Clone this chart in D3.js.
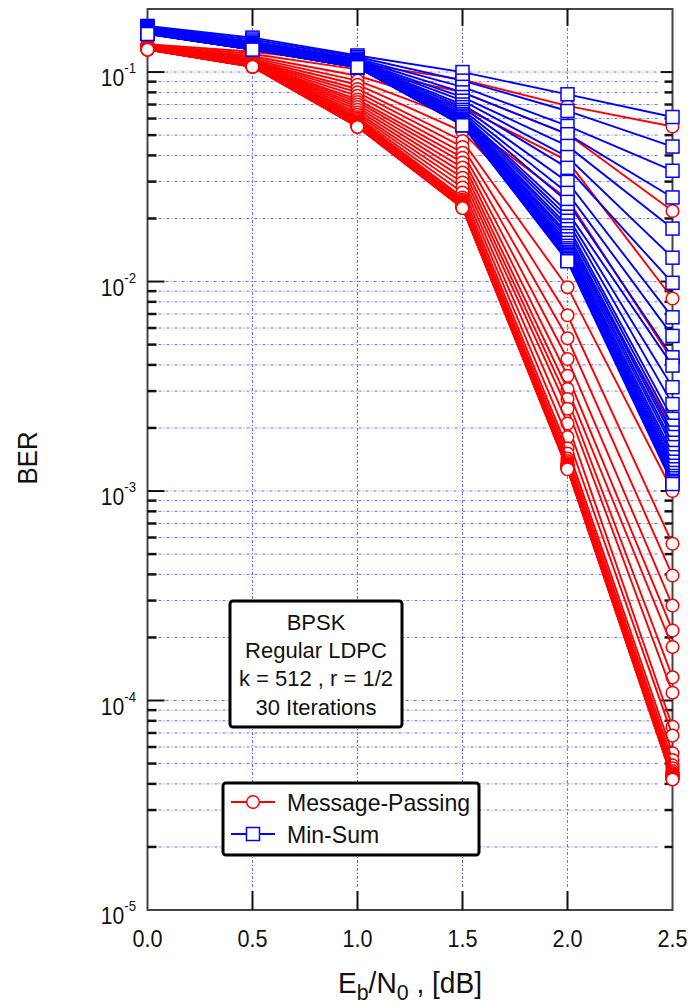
<!DOCTYPE html>
<html>
<head>
<meta charset="utf-8">
<script src="https://cdn.jsdelivr.net/npm/d3@7"></script>
<style>
  body { margin: 0; background: #fff; }
  svg { display: block; }
  text { font-family: "Liberation Sans", Arial, sans-serif; fill: #111; }
</style>
</head>
<body>
<svg id="chart" width="692" height="1005"></svg>
<script>
// Eb/N0 sample points (dB)
const ebn0 = [0.0, 0.5, 1.0, 1.5, 2.0, 2.5];
const xTickValues = [0.0, 0.5, 1.0, 1.5, 2.0, 2.5];
const yDecadeExponents = [-5, -4, -3, -2, -1];

// BER per decoding iteration (rows: iteration 1..30, columns: ebn0)
const berMessagePassing = [
  [0.136, 0.125, 0.110, 0.092, 0.069, 0.055],
  [0.135, 0.122, 0.103, 0.080, 0.0506, 0.0217],
  [0.134, 0.119, 0.096, 0.068, 0.0377, 0.0083],
  [0.133, 0.117, 0.091, 0.059, 0.0248, 0.0042],
  [0.1325, 0.115, 0.087, 0.052, 0.0155, 0.0020],
  [0.132, 0.1135, 0.083, 0.0469, 0.0094, 0.0010],
  [0.1317, 0.1125, 0.080, 0.0439, 0.0069, 5.6e-4],
  [0.1314, 0.1115, 0.077, 0.0412, 0.00536, 3.95e-4],
  [0.1311, 0.1105, 0.074, 0.0390, 0.00427, 2.84e-4],
  [0.1308, 0.1098, 0.072, 0.0370, 0.00355, 2.16e-4],
  [0.1305, 0.1092, 0.070, 0.0350, 0.00307, 1.80e-4],
  [0.1302, 0.1087, 0.068, 0.0331, 0.00275, 1.29e-4],
  [0.1300, 0.1083, 0.066, 0.0313, 0.00247, 1.09e-4],
  [0.1298, 0.1080, 0.064, 0.0297, 0.00210, 7.5e-5],
  [0.1296, 0.1077, 0.0625, 0.0281, 0.00181, 6.8e-5],
  [0.1294, 0.1075, 0.061, 0.0266, 0.00160, 5.6e-5],
  [0.1292, 0.1073, 0.060, 0.0252, 0.00151, 5.2e-5],
  [0.1290, 0.1071, 0.059, 0.0246, 0.00143, 4.9e-5],
  [0.1289, 0.1070, 0.058, 0.0242, 0.00139, 4.75e-5],
  [0.1288, 0.1068, 0.0575, 0.0238, 0.00136, 4.6e-5],
  [0.1287, 0.1067, 0.057, 0.0235, 0.00134, 4.5e-5],
  [0.1286, 0.1066, 0.0565, 0.0233, 0.00133, 4.45e-5],
  [0.1285, 0.1065, 0.056, 0.0231, 0.00132, 4.4e-5],
  [0.1284, 0.1064, 0.0557, 0.0229, 0.00131, 4.37e-5],
  [0.1283, 0.1063, 0.0554, 0.0228, 0.00130, 4.34e-5],
  [0.1282, 0.1062, 0.0552, 0.0227, 0.00129, 4.31e-5],
  [0.1281, 0.1061, 0.0550, 0.0226, 0.00129, 4.28e-5],
  [0.1280, 0.1060, 0.0549, 0.0225, 0.00128, 4.25e-5],
  [0.1280, 0.1060, 0.0548, 0.0225, 0.00128, 4.22e-5],
  [0.1279, 0.1060, 0.0547, 0.0224, 0.00127, 4.2e-5]
];

const berMinSum = [
  [0.166, 0.146, 0.120, 0.100, 0.0783, 0.061],
  [0.164, 0.143, 0.118, 0.091, 0.0652, 0.0441],
  [0.162, 0.140, 0.116, 0.085, 0.0553, 0.0338],
  [0.161, 0.138, 0.1145, 0.080, 0.0505, 0.0252],
  [0.160, 0.136, 0.113, 0.076, 0.0444, 0.0179],
  [0.159, 0.135, 0.112, 0.073, 0.0393, 0.0130],
  [0.158, 0.134, 0.111, 0.070, 0.0349, 0.00986],
  [0.1575, 0.133, 0.110, 0.068, 0.0299, 0.00675],
  [0.157, 0.1322, 0.1092, 0.066, 0.0265, 0.0055],
  [0.1565, 0.1315, 0.1085, 0.0645, 0.0240, 0.00435],
  [0.156, 0.1309, 0.108, 0.063, 0.0215, 0.00397],
  [0.1556, 0.1303, 0.1075, 0.062, 0.0204, 0.00313],
  [0.1552, 0.1298, 0.1071, 0.061, 0.0195, 0.0026],
  [0.1548, 0.1294, 0.1068, 0.060, 0.0185, 0.00221],
  [0.1545, 0.1291, 0.1066, 0.0595, 0.0178, 0.00205],
  [0.1542, 0.1289, 0.1064, 0.059, 0.0170, 0.0019],
  [0.154, 0.1287, 0.1062, 0.0585, 0.0165, 0.00181],
  [0.1538, 0.1285, 0.1061, 0.058, 0.0159, 0.0017],
  [0.1536, 0.1284, 0.106, 0.0577, 0.0153, 0.00162],
  [0.1534, 0.1283, 0.1059, 0.0574, 0.0148, 0.00152],
  [0.1532, 0.1282, 0.1058, 0.0571, 0.0144, 0.00145],
  [0.153, 0.1281, 0.1057, 0.0569, 0.0141, 0.00138],
  [0.1528, 0.128, 0.1057, 0.0567, 0.0138, 0.00132],
  [0.1527, 0.128, 0.1056, 0.0565, 0.0136, 0.00127],
  [0.1526, 0.128, 0.1056, 0.0563, 0.0134, 0.00122],
  [0.1525, 0.128, 0.1055, 0.0561, 0.0132, 0.00118],
  [0.1524, 0.128, 0.1055, 0.056, 0.013, 0.00115],
  [0.1523, 0.128, 0.1055, 0.0559, 0.0128, 0.00112],
  [0.1522, 0.128, 0.1055, 0.0558, 0.0126, 0.0011],
  [0.152, 0.128, 0.1055, 0.0557, 0.0125, 0.00108]
];

const seriesNames = ["Message-Passing", "Min-Sum"];
const seriesColors = ["#ff0000", "#0000ff"];
const infoLines = ["BPSK", "Regular LDPC", "k = 512 , r = 1/2", "30 Iterations"];

const svg = d3.select("#chart");
const X0 = 147.5, X1 = 672.5, Y0 = 9, Y1 = 910;
const x = d3.scaleLinear().domain([0, 2.5]).range([X0, X1]);
const y = d3.scaleLog().domain([1e-5, 0.2]).range([Y1, Y0]);

const gridColor = "#6a6aff";
const gridDash = "3,2,1,2";

// horizontal grid (1..9 x 10^k)
const gridVals = [];
yDecadeExponents.forEach(k => {
  for (let m = 1; m <= 9; m++) {
    const v = m * Math.pow(10, k);
    if (v > 1e-5 * 1.0001 && v <= 0.1 * 1.0001) gridVals.push({ v, major: m === 1 });
  }
});
const grid = svg.append("g");
gridVals.forEach(d => {
  grid.append("line")
    .attr("x1", X0 + (d.major ? 18 : 11)).attr("x2", X1 - 15)
    .attr("y1", y(d.v)).attr("y2", y(d.v))
    .attr("stroke", gridColor).attr("stroke-width", 1).attr("stroke-dasharray", gridDash);
});
xTickValues.filter(v => v > 0 && v < 2.5).forEach(v => {
  grid.append("line")
    .attr("x1", x(v)).attr("x2", x(v))
    .attr("y1", Y0 + 19).attr("y2", Y1 - 21)
    .attr("stroke", gridColor).attr("stroke-width", 1).attr("stroke-dasharray", gridDash);
});

// frame
svg.append("rect").attr("x", X0).attr("y", Y0).attr("width", X1 - X0).attr("height", Y1 - Y0)
  .attr("fill", "none").attr("stroke", "#444").attr("stroke-width", 2);

// ticks
const ticks = svg.append("g").attr("stroke", "#111").attr("stroke-width", 2);
xTickValues.filter(v => v > 0 && v < 2.5).forEach(v => {
  ticks.append("line").attr("x1", x(v)).attr("x2", x(v)).attr("y1", Y1).attr("y2", Y1 - 19);
  ticks.append("line").attr("x1", x(v)).attr("x2", x(v)).attr("y1", Y0).attr("y2", Y0 + 17);
});
gridVals.forEach(d => {
  const yy = y(d.v);
  ticks.append("line").attr("x1", X0).attr("x2", X0 + (d.major ? 17 : 9)).attr("y1", yy).attr("y2", yy)
    .attr("stroke-width", d.major ? 2 : 2.5);
  ticks.append("line").attr("x1", X1).attr("x2", X1 - (d.major ? 12 : 8)).attr("y1", yy).attr("y2", yy)
    .attr("stroke-width", d.major ? 2 : 2.5);
});

// y tick labels 10^k
yDecadeExponents.forEach(k => {
  const t = svg.append("text")
    .attr("transform", `translate(136,${y(Math.pow(10, k)) + 14}) scale(0.88,1)`)
    .attr("text-anchor", "end").attr("font-size", 24);
  t.append("tspan").text("10");
  t.append("tspan").attr("font-size", 15).attr("dy", -13).text(String(k));
});

// x tick labels
xTickValues.forEach(v => {
  svg.append("text")
    .attr("transform", `translate(${x(v)},947) scale(0.9,1)`)
    .attr("text-anchor", "middle").attr("font-size", 24)
    .text(d3.format(".1f")(v));
});

// axis titles
const xt = svg.append("text")
  .attr("transform", `translate(${(X0 + X1) / 2},993) scale(0.97,1)`)
  .attr("text-anchor", "middle").attr("font-size", 29);
xt.append("tspan").text("E");
xt.append("tspan").attr("font-size", 22).attr("dy", 7).text("b");
xt.append("tspan").attr("dy", -7).text("/N");
xt.append("tspan").attr("font-size", 22).attr("dy", 7).text("0");
xt.append("tspan").attr("dy", -7).text(" , [dB]");

svg.append("text")
  .attr("transform", "translate(37,458) rotate(-90) scale(0.92,1)")
  .attr("text-anchor", "middle").attr("font-size", 28).text("BER");

// data curves, one per iteration
const line = d3.line().x((d, i) => x(ebn0[i])).y(d => y(d));
const curves = svg.append("g");
function drawMarker(g, kind, cx, cy, color) {
  if (kind === 0) {
    g.append("circle").attr("cx", cx).attr("cy", cy).attr("r", 6.3)
      .attr("fill", "#fff").attr("stroke", color).attr("stroke-width", 1.5);
  } else {
    g.append("rect").attr("x", cx - 6.5).attr("y", cy - 6.5).attr("width", 13).attr("height", 13)
      .attr("fill", "#fff").attr("stroke", color).attr("stroke-width", 1.5);
  }
}
const allSeries = [berMessagePassing, berMinSum];
for (let it = 0; it < berMessagePassing.length; it++) {
  allSeries.forEach((series, s) => {
    const row = series[it];
    curves.append("path").attr("d", line(row))
      .attr("fill", "none").attr("stroke", seriesColors[s]).attr("stroke-width", 1.9);
    row.forEach((v, i) => drawMarker(curves, s, x(ebn0[i]), y(v), seriesColors[s]));
  });
}

// info box
const info = svg.append("g");
info.append("rect").attr("x", 230).attr("y", 601).attr("width", 172).attr("height", 126).attr("rx", 3)
  .attr("fill", "#fff").attr("stroke", "#000").attr("stroke-width", 3);
infoLines.forEach((s, i) => {
  info.append("text").attr("x", 316).attr("y", 630 + i * 28.2)
    .attr("text-anchor", "middle").attr("font-size", 22).text(s);
});

// legend
const leg = svg.append("g");
leg.append("rect").attr("x", 223).attr("y", 783).attr("width", 256).attr("height", 72).attr("rx", 3)
  .attr("fill", "#fff").attr("stroke", "#000").attr("stroke-width", 3);
seriesNames.forEach((name, s) => {
  const ly = 802 + s * 32;
  leg.append("line").attr("x1", 231).attr("x2", 275).attr("y1", ly).attr("y2", ly)
    .attr("stroke", seriesColors[s]).attr("stroke-width", 2);
  drawMarker(leg, s, 253, ly, seriesColors[s]);
  leg.append("text").attr("transform", `translate(287,${ly + 9}) scale(0.96,1)`)
    .attr("font-size", 24).text(name);
});
</script>
</body>
</html>
